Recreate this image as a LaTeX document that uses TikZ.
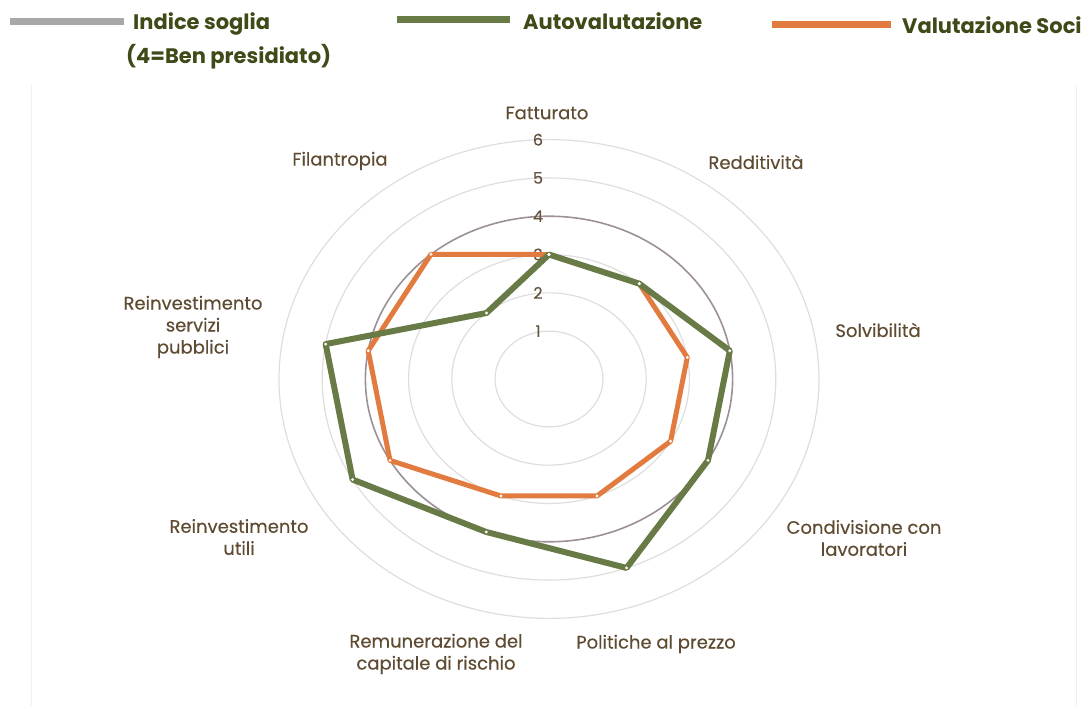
\documentclass[tikz,border=0pt]{standalone}
\usepackage{fontspec}
\setmainfont{Poppins}
\newfontfamily\labelfont{Poppins}[FakeBold=0.35]
\definecolor{gridc}{HTML}{DEDEDE}
\definecolor{threshc}{HTML}{9C9096}
\definecolor{greenc}{HTML}{687A46}
\definecolor{orangec}{HTML}{E27B3F}
\definecolor{labelc}{HTML}{5E4B32}
\definecolor{legc}{HTML}{3E4A18}
\definecolor{legbar}{HTML}{A8A8A8}
\definecolor{panelc}{HTML}{F0F0F0}
\begin{document}
\begin{tikzpicture}[x=1pt,y=-1pt,
  gridring/.style={draw=gridc,line width=1.2pt},
  threshring/.style={draw=threshc,line width=1.6pt},
  catlabel/.style={font=\labelfont\fontsize{18}{22}\selectfont,text=labelc,align=center,inner sep=0pt},
  vallabel/.style={font=\labelfont\fontsize{16}{16}\selectfont,text=labelc!85!gray,inner sep=0pt},
  legtext/.style={font=\fontsize{21}{22}\selectfont\bfseries,text=legc,inner sep=0pt,anchor=west},
  series/.style={line width=#1,line join=round},
  dot/.style={fill=white}]
\useasboundingbox (0,0) rectangle (1088,706);
% faint panel edges
\draw[panelc,line width=1pt] (31,85) -- (31,706);
\draw[panelc,line width=1pt] (1076,85) -- (1076,706);
% grid rings
\foreach \v in {1,2,3,5,6}
  \draw[gridring] (549,379) ellipse [x radius={43.2*(\v+0.25)*1pt}, y radius={38.3*(\v+0.25)*1pt}];
\draw[threshring] (549,379) ellipse [x radius={43.2*4.25*1pt}, y radius={38.3*4.25*1pt}];
% value labels
\foreach \v in {1,...,6}
  \node[vallabel] (v\v) at (538,{379-38.3*(\v+0.25)}) {\v};
% series points
\foreach \v [count=\i from 0] in {3,3,3,3,3,3,4,4,4}
  \coordinate (o\i) at ({549+43.2*(\v+0.25)*sin(40*\i)},{379-38.3*(\v+0.25)*cos(40*\i)});
\foreach \v [count=\i from 0] in {3,3,4,4,5,4,5,5,2}
  \coordinate (g\i) at ({549+43.2*(\v+0.25)*sin(40*\i)},{379-38.3*(\v+0.25)*cos(40*\i)});
\draw[series=5pt,orangec] (o0) -- (o1) -- (o2) -- (o3) -- (o4) -- (o5) -- (o6) -- (o7) -- (o8) -- cycle;
\draw[series=6pt,greenc] (g0) -- (g1) -- (g2) -- (g3) -- (g4) -- (g5) -- (g6) -- (g7) -- (g8) -- cycle;
\foreach \i in {0,...,8} {
  \fill[dot] (o\i) circle (1.6pt);
  \fill[dot] (g\i) circle (1.6pt);
}
% category labels
\node[catlabel] (c0) at (547,113) {Fatturato};
\node[catlabel] (c1) at (756,162) {Redditività};
\node[catlabel] (c2) at (878,330) {Solvibilità};
\node[catlabel] (c3) at (864,538) {Condivisione con\\lavoratori};
\node[catlabel] (c4) at (656,644) {Politiche al prezzo};
\node[catlabel] (c5) at (436,654) {Remunerazione del\\capitale di rischio};
\node[catlabel] (c6) at (239,537) {Reinvestimento\\utili};
\node[catlabel] (c7) at (193,327) {Reinvestimento\\servizi\\pubblici};
\node[catlabel] (c8) at (340,161) {Filantropia};
% legend
\coordinate (lg1a) at (10,22); \coordinate (lg1b) at (124,22);
\draw[legbar,line width=7pt] (lg1a) -- (lg1b);
\node[legtext] (t1) at (133,24) {Indice soglia};
\node[legtext] (t1b) at (126,57) {(4=Ben presidiato)};
\coordinate (lg2a) at (397,20); \coordinate (lg2b) at (510,20);
\draw[greenc,line width=7pt] (lg2a) -- (lg2b);
\node[legtext] (t2) at (523,21) {Autovalutazione};
\coordinate (lg3a) at (772,25); \coordinate (lg3b) at (891,25);
\draw[orangec,line width=7pt] (lg3a) -- (lg3b);
\node[legtext] (t3) at (902,25) {Valutazione Soci};
\end{tikzpicture}
\end{document}
